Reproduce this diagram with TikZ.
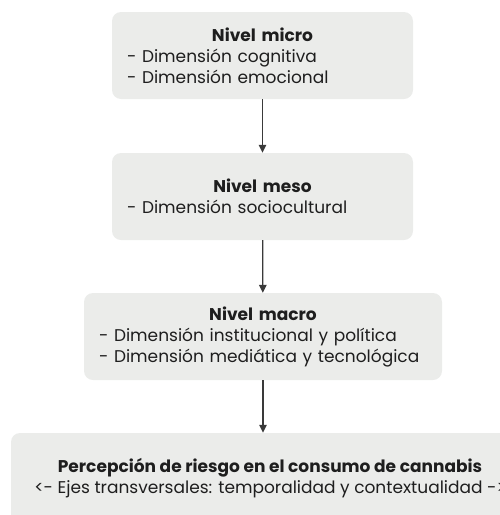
\documentclass[tikz,border=0pt]{standalone}
\usepackage{fontspec}
\setmainfont{Poppins}
\usetikzlibrary{arrows.meta}
\definecolor{cajagris}{HTML}{EBECEA}
\definecolor{flechagris}{HTML}{3A3A3A}
\definecolor{textogris}{HTML}{1E1E1E}
\newcommand{\titulo}[1]{{\centering\textbf{#1}\par}}
\begin{document}
\begin{tikzpicture}[x=1pt,y=-1pt]
\tikzset{
nivel/.style={fill=cajagris,rounded corners=9pt,inner xsep=15pt,inner ysep=0pt,text=textogris,
  font=\fontsize{17}{21}\selectfont,minimum height=87pt,align=left},
flecha/.style={draw=flechagris,line width=1.3pt,-{Triangle[length=8pt,width=7.5pt]}}
}
\useasboundingbox (0,0) rectangle (500,515);
\begin{scope}
\clip (0,0) rectangle (500,515);
\node[nivel,text width=271pt] (micro) at (262.5,55.5)
  {\titulo{Nivel micro}- Dimensión cognitiva\\- Dimensión emocional};
\node[nivel,text width=271pt] (meso) at (262.5,196.5)
  {\titulo{Nivel meso}- Dimensión sociocultural};
\node[nivel,text width=328pt] (macro) at (263,336.5)
  {\titulo{Nivel macro}- Dimensión institucional y política\\- Dimensión mediática y tecnológica};
\node[nivel,minimum width=518pt,minimum height=90pt,inner xsep=0pt,align=center] (riesgo) at (270,478)
  {\textbf{Percepción de riesgo en el consumo de cannabis}\\<- Ejes transversales: temporalidad y contextualidad ->};
\end{scope}
\draw[flecha] (micro) -- (meso);
\draw[flecha] (meso) -- (macro);
\draw[flecha] (macro.south) -- (macro.south|-riesgo.north);
\end{tikzpicture}
\end{document}
